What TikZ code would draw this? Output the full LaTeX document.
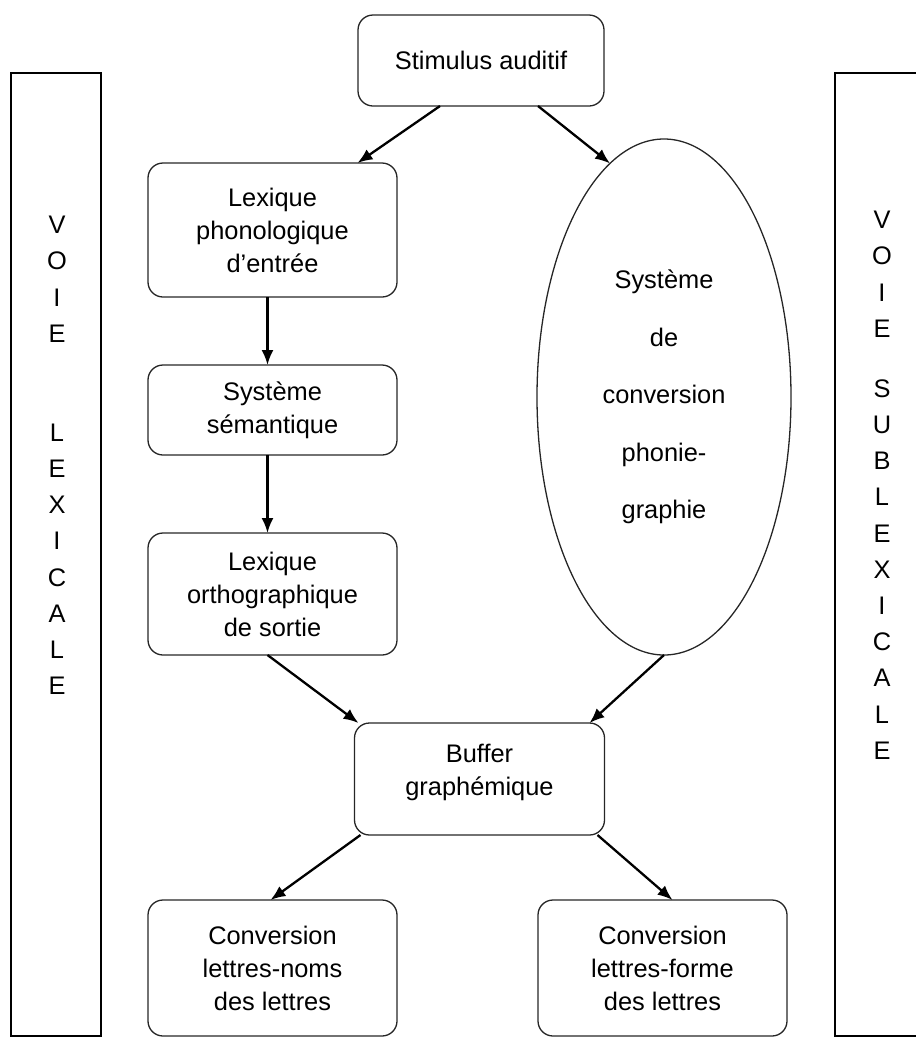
\documentclass[tikz,border=0pt]{standalone}
\usepackage{fontspec}
\setmainfont{Liberation Sans}
\usepackage{tikz}
\usetikzlibrary{shapes,arrows.meta,positioning}
\tikzstyle{caja} = [draw=black!85, line width=1.3pt, rectangle, rounded corners=15pt, align=center, inner sep=0pt, outer sep=0pt, minimum width=249pt, font=\fontsize{25.4}{33}\selectfont]
\tikzstyle{elipse} = [draw=black!85, line width=1.3pt, ellipse, align=center, inner sep=0pt, outer sep=0pt, minimum width=254pt, minimum height=516pt, font=\fontsize{25.4}{57.5}\selectfont]
\tikzstyle{voie} = [draw, line width=1.7pt, rectangle, inner sep=0pt, minimum width=90pt, minimum height=963pt]
\tikzstyle{lettres} = [align=center, inner sep=0pt, anchor=north, font=\fontsize{25.4}{36.2}\selectfont]
\tikzstyle{fleche} = [-{Latex[length=15pt,width=12pt]}, line width=2.3pt]

\begin{document}
\begin{tikzpicture}[x=1pt, y=-1pt]
	\useasboundingbox (0,0) rectangle (916,1037);
	\node [voie] (gauche) at (56,554.5) {};
	\node [voie] (droite) at (880,554.5) {};
	\node [lettres] (lexicale) at (57,216) {V\\O\\I\\E\\[62.8pt]L\\E\\X\\I\\C\\A\\L\\E};
	\node [lettres] (sublexicale) at (882,211) {V\\O\\I\\E\\[23.8pt]S\\U\\B\\L\\E\\X\\I\\C\\A\\L\\E};

	\node [caja, minimum width=246pt, minimum height=91pt] (stim) at (481,60.5) {Stimulus auditif};
	\node [caja, minimum height=134pt] (lexphon) at (272.5,230) {Lexique\\phonologique\\d'entrée};
	\node [caja, minimum height=90pt] (sem) at (272.5,410) {Système\\sémantique};
	\node [caja, minimum height=122pt] (lexortho) at (272.5,594) {Lexique\\orthographique\\de sortie};
	\node [elipse] (conv) at (664,397) {Système\\de\\conversion\\phonie-\\graphie};
	\node [caja, minimum width=250pt, minimum height=112pt] (buf) at (479.5,779) {Buffer\\graphémique\\[-15pt]};
	\node [caja, minimum height=136pt] (convnoms) at (272.5,968) {Conversion\\lettres-noms\\des lettres};
	\node [caja, minimum height=136pt] (convforme) at (662.5,968) {Conversion\\lettres-forme\\des lettres};

	\draw [fleche] ([xshift=-41pt]stim.south) -- ([xshift=85pt]lexphon.north);
	\draw [fleche] ([xshift=57pt]stim.south) -- (conv.103);
	\draw [fleche] ([xshift=-5pt]lexphon.south) -- ([xshift=-5pt]sem.north);
	\draw [fleche] ([xshift=-5pt]sem.south) -- ([xshift=-5pt]lexortho.north);
	\draw [fleche] ([xshift=-5pt]lexortho.south) -- ([xshift=-121pt]buf.north);
	\draw [fleche] (conv.south) -- ([xshift=110pt]buf.north);
	\draw [fleche] ([xshift=-119pt]buf.south) -- ([xshift=-2pt]convnoms.north);
	\draw [fleche] ([xshift=118pt]buf.south) -- ([xshift=10pt]convforme.north);
\end{tikzpicture}
\end{document}
